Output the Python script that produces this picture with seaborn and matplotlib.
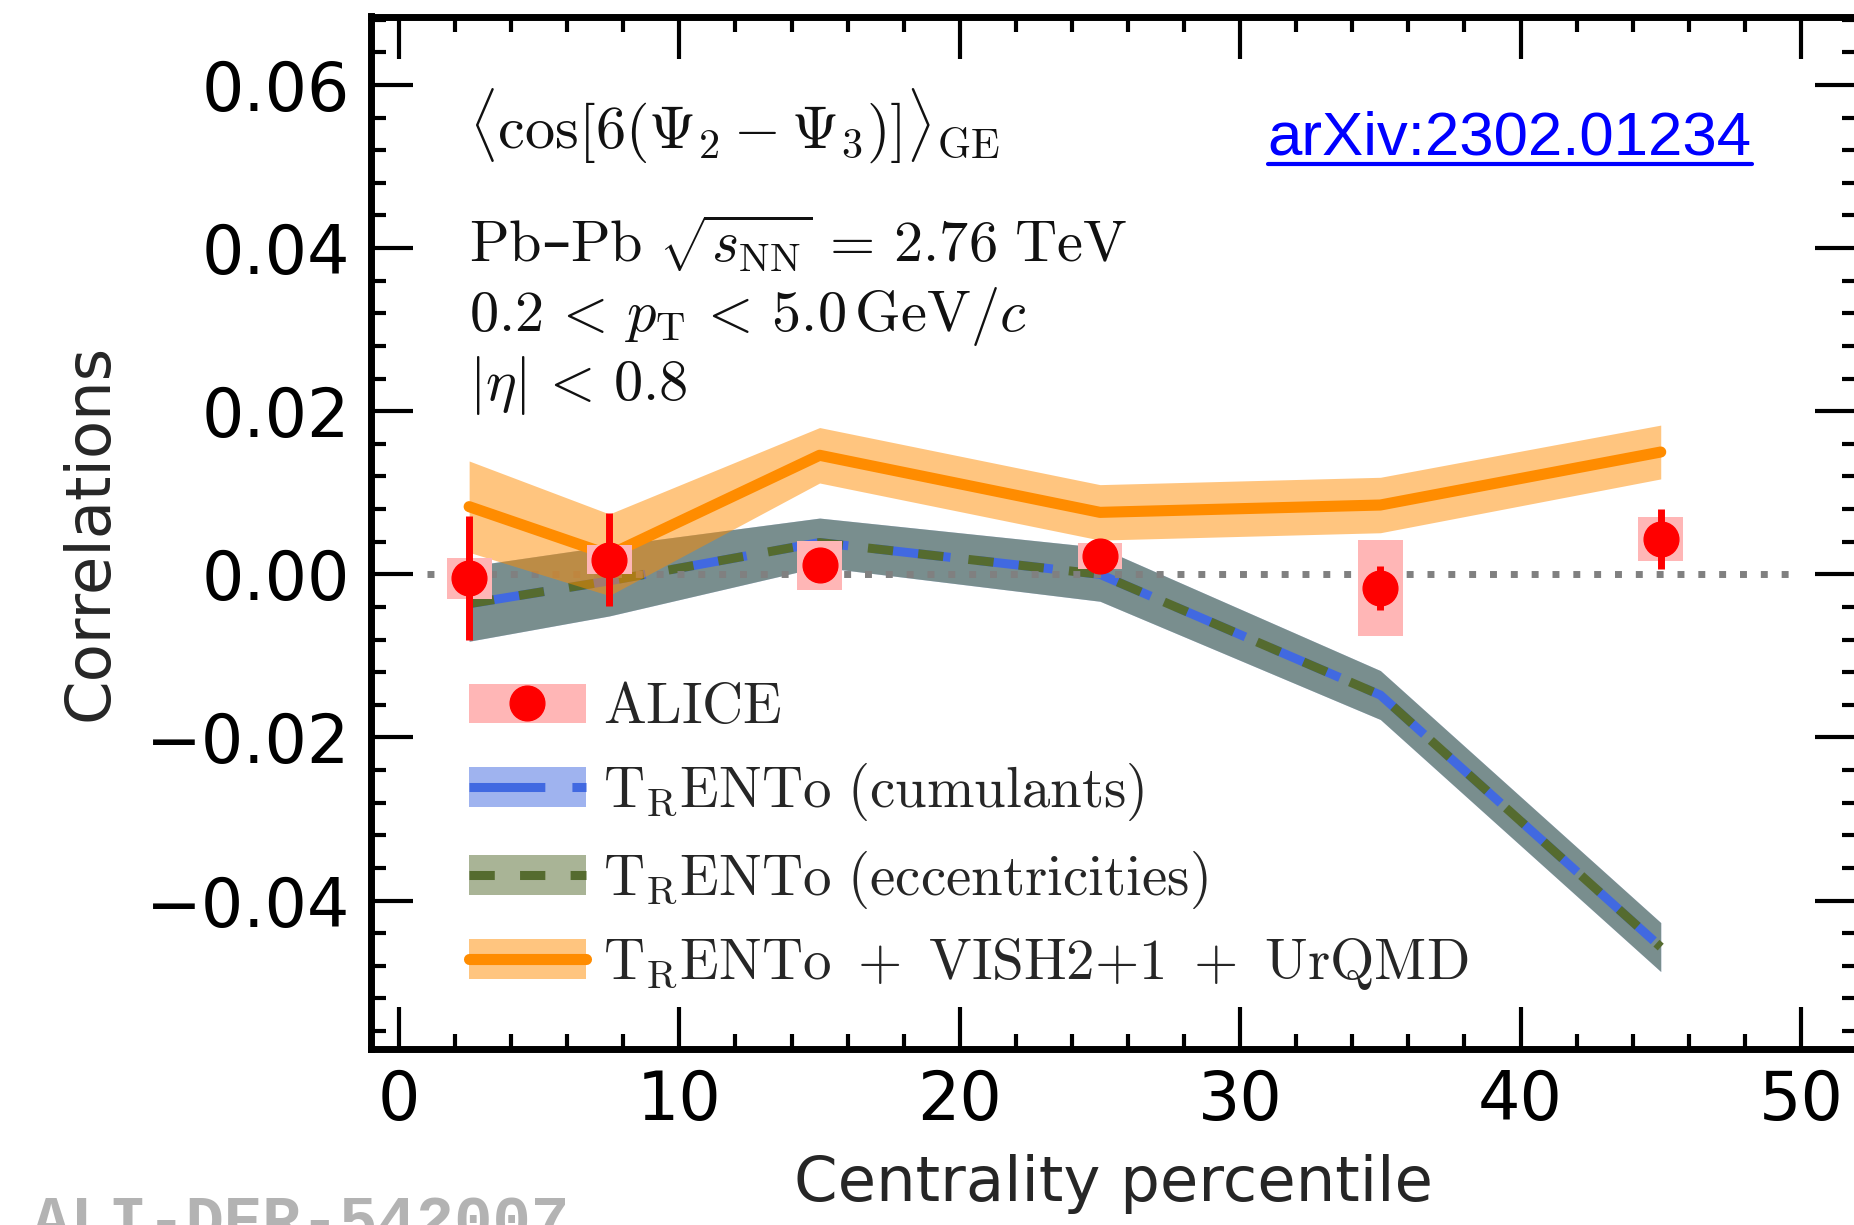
import matplotlib
matplotlib.use("Agg")
import matplotlib.pyplot as plt
import seaborn as sns
import numpy as np
from matplotlib.patches import Patch, Rectangle
from matplotlib.lines import Line2D
from matplotlib.ticker import MultipleLocator
from matplotlib.transforms import IdentityTransform

# ---------------- data ----------------
centrality = [2.5, 7.5, 15, 25, 35, 45]

alice_val = [-0.0005, 0.0018, 0.0011, 0.0022, -0.0017, 0.0043]
alice_stat = [0.0076, 0.0057, 0.0015, 0.0012, 0.0027, 0.0037]
alice_syst = [0.0025, 0.0018, 0.0030, 0.0016, 0.0059, 0.0027]

cumul_val = [-0.0036, -0.0008, 0.0039, 0.0000, -0.0148, -0.0457]
cumul_err = [0.0046, 0.0043, 0.0030, 0.0033, 0.0030, 0.0030]

ecc_val = [-0.0036, -0.0008, 0.0039, 0.0000, -0.0148, -0.0457]
ecc_err = [0.0046, 0.0043, 0.0030, 0.0033, 0.0030, 0.0030]

hydro_val = [0.0083, 0.0024, 0.0146, 0.0076, 0.0085, 0.0150]
hydro_err = [0.0056, 0.0050, 0.0034, 0.0034, 0.0034, 0.0033]

x_ticks = [0, 10, 20, 30, 40, 50]
x_tick_labels = ["0", "10", "20", "30", "40", "50"]
y_ticks = [-0.04, -0.02, 0.00, 0.02, 0.04, 0.06]
y_tick_labels = ["\u22120.04", "\u22120.02", "0.00", "0.02", "0.04", "0.06"]

legend_labels = [
    r"$\mathrm{ALICE}$",
    r"$\mathrm{T_{R}ENTo\ (cumulants)}$",
    r"$\mathrm{T_{R}ENTo\ (eccentricities)}$",
    r"$\mathrm{T_{R}ENTo\ +\ VISH2{+}1\ +\ UrQMD}$",
]
info_lines = [
    r"$\langle\cos[6(\Psi_2-\Psi_3)]\rangle_{\mathrm{GE}}$",
    r"$\mathrm{Pb}$" + "\u2013" + r"$\mathrm{Pb}\ \sqrt{s_{\mathrm{NN}}}\,=\,2.76\ \mathrm{TeV}$",
    r"$0.2\,<\,p_{\mathrm{T}}\,<\,5.0\,\mathrm{GeV}/c$",
    r"$|\eta|\,<\,0.8$",
]

# ---------------- style ----------------
sns.set_style("ticks")
plt.rcParams.update({
    "font.family": ["DejaVu Sans"],
    "mathtext.fontset": "cm",
    "mathtext.fallback": "stix",
    "axes.edgecolor": "black",
    "xtick.color": "black",
    "ytick.color": "black",
    "axes.linewidth": 5,
})

PINK = "#ffb6b6"
W, H = 1854, 1225
fig = plt.figure(figsize=(W / 100, H / 100), dpi=100)
ax = fig.add_axes([371 / W, (H - 1049) / H, (1857 - 371) / W, (1049 - 16.5) / H])

# TRENTo bands
lo = [v - e for v, e in zip(cumul_val, cumul_err)]
hi = [v + e for v, e in zip(cumul_val, cumul_err)]
ax.fill_between(centrality, lo, hi, color="royalblue", alpha=0.5, lw=0, zorder=1)
lo = [v - e for v, e in zip(ecc_val, ecc_err)]
hi = [v + e for v, e in zip(ecc_val, ecc_err)]
ax.fill_between(centrality, lo, hi, color="darkolivegreen", alpha=0.5, lw=0, zorder=2)

sns.lineplot(x=centrality, y=cumul_val, ax=ax, color="royalblue", lw=6.5,
             errorbar=None, zorder=3)
ax.lines[-1].set_dashes((8.4, 3.0))
sns.lineplot(x=centrality, y=ecc_val, ax=ax, color="darkolivegreen", lw=6.5,
             errorbar=None, zorder=3.5)
ax.lines[-1].set_dashes((2.8, 2.8))

# zero line
ax.hlines(0, 1, 50, colors="gray", linestyles=(0, (1, 2)), lw=5, zorder=4)

# hydro band
lo = [v - e for v, e in zip(hydro_val, hydro_err)]
hi = [v + e for v, e in zip(hydro_val, hydro_err)]
ax.fill_between(centrality, lo, hi, color="darkorange", alpha=0.5, lw=0, zorder=5)
sns.lineplot(x=centrality, y=hydro_val, ax=ax, color="darkorange", lw=8,
             errorbar=None, zorder=6)

# ALICE data
for xc, v, s in zip(centrality, alice_val, alice_syst):
    ax.add_patch(Rectangle((xc - 0.8, v - s), 1.6, 2 * s, facecolor=PINK,
                           edgecolor="none", zorder=7))
ax.errorbar(centrality, alice_val, yerr=alice_stat, fmt="o", color="red", ms=25,
            elinewidth=5, capsize=0, zorder=8)

# axes
ax.set_xlim(-1, 52)
ax.set_ylim(-0.0582, 0.0684)
ax.set_xticks(x_ticks)
ax.set_xticklabels(x_tick_labels)
ax.set_yticks(y_ticks)
ax.set_yticklabels(y_tick_labels)
ax.xaxis.set_minor_locator(MultipleLocator(2))
ax.yaxis.set_minor_locator(MultipleLocator(0.004))
ax.tick_params(which="both", direction="in", top=True, right=True, width=3)
ax.tick_params(which="major", length=30, labelsize=48)
ax.tick_params(axis="x", which="major", pad=14)
ax.tick_params(axis="y", which="major", pad=15)
ax.tick_params(which="minor", length=10.5)
for sp in ax.spines.values():
    sp.set_linewidth(5)
    sp.set_color("black")

ax.set_xlabel("Centrality percentile", fontsize=45, labelpad=14)
ax.set_ylabel("Correlations", fontsize=45, labelpad=18)

# info text
ys = [0.8733, 0.7623, 0.6955, 0.6286]
sizes = [43.5, 42, 42, 42]
for txt, yy, fs in zip(info_lines, ys, sizes):
    ax.text(0.0658, yy, txt, transform=ax.transAxes, fontsize=fs, va="baseline",
            ha="left", color="#111111")

t_arx = ax.text(0.6033, 0.8659, "arXiv:2302.01234", transform=ax.transAxes,
                fontsize=44.5, family="Liberation Sans", color="#0000ff",
                va="baseline", ha="left")

# legend
handles = [
    (Patch(facecolor=PINK, edgecolor="none"),
     Line2D([], [], ls="none", marker="o", ms=25, color="red")),
    (Patch(facecolor="royalblue", alpha=0.5, edgecolor="none"),
     Line2D([], [], color="royalblue", lw=6.5, dashes=(8.4, 3.0))),
    (Patch(facecolor="darkolivegreen", alpha=0.5, edgecolor="none"),
     Line2D([], [], color="darkolivegreen", lw=6.5, dashes=(2.8, 2.8))),
    (Patch(facecolor="darkorange", alpha=0.5, edgecolor="none"),
     Line2D([], [], color="darkorange", lw=8)),
]
ax.legend(handles, legend_labels, loc="upper left", bbox_to_anchor=(0.066, 0.357),
          frameon=False, fontsize=41, handlelength=2.05, handletextpad=0.3,
          labelspacing=0.45, borderpad=0, borderaxespad=0)

# watermark
fig.text(32 / W, (H - 1242) / H, "ALI-DER-542007", family="Liberation Mono",
         weight="bold", color="#b3b3b3", fontsize=46, va="baseline", ha="left")

# underline for the arXiv link
fig.canvas.draw()
bb = t_arx.get_window_extent()
xb, yb = ax.transAxes.transform((0.6033, 0.8659))
fig.add_artist(Line2D([bb.x0, bb.x1], [yb - 9, yb - 9], transform=IdentityTransform(),
                      color="#0000ff", lw=3))

fig.savefig("out.png", dpi=100)
